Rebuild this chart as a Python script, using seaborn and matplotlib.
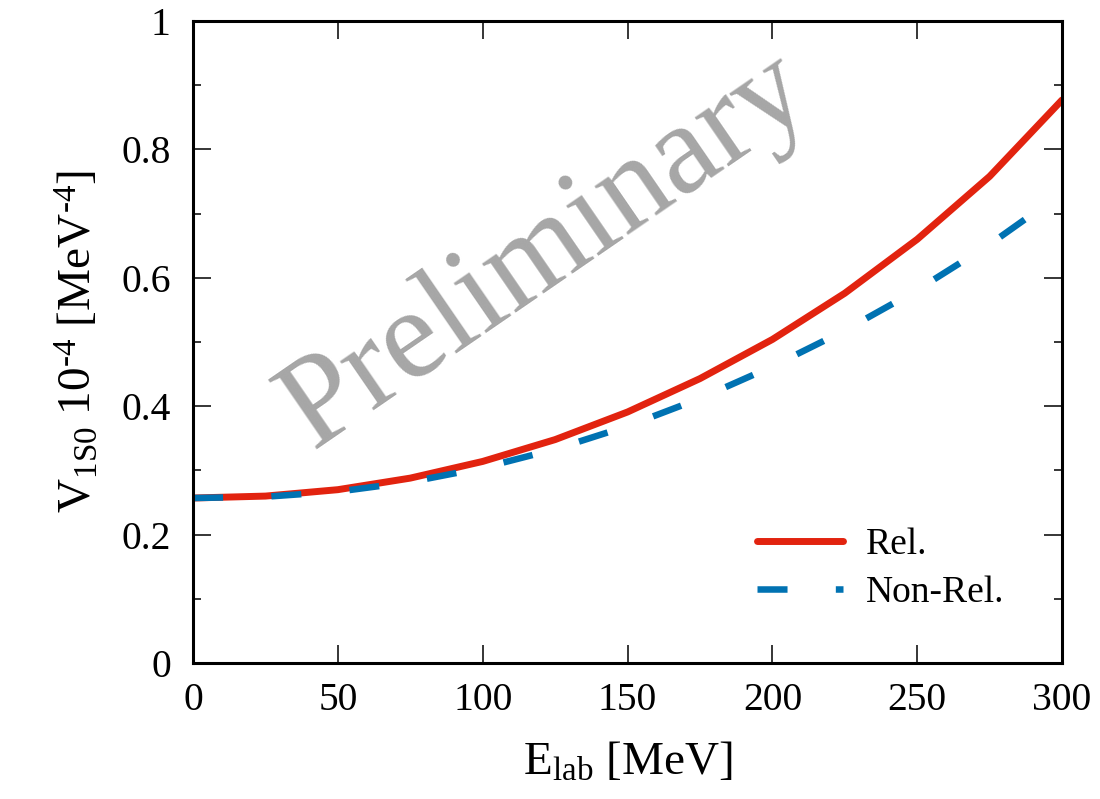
import numpy as np
import pandas as pd
import matplotlib
matplotlib.use("Agg")
import matplotlib.pyplot as plt
import seaborn as sns
from matplotlib.ticker import MultipleLocator

# ---- data ----
e_lab = [0, 25, 50, 75, 100, 125, 150, 175, 200, 225, 250, 275, 300]
v_rel = [0.257, 0.260, 0.270, 0.288, 0.314, 0.348, 0.391, 0.443, 0.504, 0.576, 0.660, 0.758, 0.877]
v_nonrel = [0.257, 0.259, 0.267, 0.282, 0.304, 0.333, 0.369, 0.412, 0.462, 0.518, 0.581, 0.652, 0.732]
series_labels = ["Rel.", "Non-Rel."]
x_ticks = [0, 50, 100, 150, 200, 250, 300]
y_ticks = [0, 0.2, 0.4, 0.6, 0.8, 1]
y_tick_labels = ["0", "0.2", "0.4", "0.6", "0.8", "1"]

sns.set_theme(style="ticks")
plt.rcParams["font.family"] = ["Liberation Serif", "DejaVu Serif"]
plt.rcParams["mathtext.fontset"] = "custom"
plt.rcParams["mathtext.rm"] = "Liberation Serif"
plt.rcParams["mathtext.it"] = "Liberation Serif:italic"
plt.rcParams["text.color"] = "black"
plt.rcParams["axes.labelcolor"] = "black"
plt.rcParams["xtick.color"] = "black"
plt.rcParams["ytick.color"] = "black"

fig = plt.figure(figsize=(11, 7.99), dpi=100)
ax = fig.add_axes([0.1755, 0.1702, 0.790, 0.8035])

df = pd.DataFrame({"E": e_lab, "rel": v_rel, "nonrel": v_nonrel})
sns.lineplot(data=df, x="E", y="rel", ax=ax, color="#e2230f", linewidth=5.0,
             label=series_labels[0])
sns.lineplot(data=df, x="E", y="nonrel", ax=ax, color="#0072b2", linewidth=4.7,
             label=series_labels[1])
ax.lines[1].set_dashes((4.6, 7.4))
ax.lines[1].set_dash_capstyle("butt")

ax.set_xlim(0, 300)
ax.set_ylim(0, 1)
ax.set_xticks(x_ticks)
ax.set_yticks(y_ticks)
ax.set_yticklabels(y_tick_labels)
ax.yaxis.set_minor_locator(MultipleLocator(0.1))

for s in ax.spines.values():
    s.set_visible(True)
    s.set_linewidth(2.2)
    s.set_color("black")

ax.tick_params(axis="both", which="major", direction="in", length=13, width=1.1,
               top=True, right=True, labelsize=28.5, pad=14, colors="black")
ax.tick_params(axis="y", which="minor", direction="in", length=6, width=1.1,
               left=True, right=True, colors="black")
ax.tick_params(axis="y", which="major", pad=16)

ax.set_xlabel(r"E$_{\rm lab}$ [MeV]", fontsize=34, labelpad=16, color="black")
ax.set_ylabel("V$_{\\rm 1S0}$ 10$^{\\rm \u20104}$ [MeV$^{\\rm \u20104}$]",
              fontsize=34, labelpad=14, color="black")

ax.text(122, 0.64, "Preliminary", fontsize=93, color="#a6a6a6", rotation=34.5,
        ha="center", va="center", rotation_mode="anchor", zorder=0)

leg = ax.legend(loc="center left", bbox_to_anchor=(0.649, 0.147), frameon=False,
                fontsize=27, handlelength=2.3, handletextpad=0.6, labelspacing=0.35,
                borderpad=0, borderaxespad=0)
for t in leg.get_texts():
    t.set_color("black")

fig.savefig("out.png", dpi=100)
